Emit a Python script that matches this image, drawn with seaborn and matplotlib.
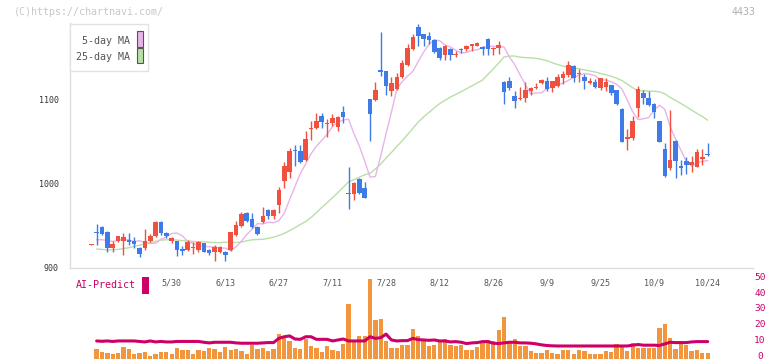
import numpy as np
import pandas as pd
import matplotlib
matplotlib.use("Agg")
import matplotlib.pyplot as plt
from matplotlib.patches import Rectangle
import seaborn as sns

# ---------------- data ----------------
opens = [927, 942, 948, 942, 923, 931, 931, 933, 931, 923,
         923, 931, 937, 954, 941, 931, 931, 922, 921, 923.5,
         921, 928.6, 920.6, 918.3, 918, 919, 921, 939, 949, 964.8,
         958, 948, 954, 968, 961, 974, 1003, 1013.5, 1040, 1038,
         1027.4, 1064, 1066, 1080, 1070.5, 1072, 1067, 1084.5, 989, 987,
         1005, 994.6, 1100, 1099, 1134.5, 1133, 1110, 1112, 1126, 1140,
         1159.5, 1186, 1177, 1175, 1170, 1161, 1152.4, 1160, 1153, 1160,
         1159.5, 1163, 1163.5, 1162, 1172, 1159.5, 1161, 1120.6, 1122, 1103.6,
         1099.6, 1101.6, 1110, 1113, 1119.5, 1121.4, 1112.7, 1115.5, 1125.4, 1128.6,
         1139.3, 1130, 1126, 1119.5, 1120.6, 1112.7, 1114.6, 1116.7, 1110.7, 1088,
         1053.2, 1054, 1089.7, 1107.6, 1100.8, 1094, 1073.8, 1040.5, 1018.3, 1050,
         1020, 1026, 1022.2, 1019.5, 1029.4, 1034.5]
closes = [928, 941, 940, 923, 928, 937, 936, 930, 928, 916,
          932, 938, 954, 941, 937, 934.5, 921, 920, 930, 924.5,
          930, 919, 917.5, 924.6, 924, 915, 941.7, 951, 964, 955.7,
          948, 940, 961, 961, 968, 992, 1021, 1039, 1038, 1025.4,
          1052.4, 1066, 1074, 1073, 1072, 1078, 1079, 1079, 987, 1000,
          988, 982.5, 1082.5, 1110.7, 1132, 1115.5, 1119.5, 1126.6, 1143, 1161,
          1174, 1175, 1172, 1170, 1156, 1149, 1163, 1152.4, 1154, 1158,
          1163, 1165.5, 1167, 1159.5, 1159, 1160.5, 1164, 1108.7, 1112.7, 1098,
          1101.6, 1110.7, 1113.5, 1114, 1122.6, 1112, 1121.4, 1125.8, 1129.8, 1140.5,
          1124.6, 1131, 1122, 1121.4, 1114.6, 1124.6, 1120.6, 1106.8, 1094, 1049.2,
          1055.2, 1073.8, 1111.6, 1100.8, 1092.9, 1085, 1049.2, 1008.7, 1027.4, 1026.6,
          1018.7, 1022, 1025.4, 1037.3, 1031.4, 1034]
highs = [928, 952, 949, 943, 931, 938, 941, 941, 936, 924,
         946, 940, 955, 955, 942, 936, 932, 926, 933, 930,
         931, 929, 922, 927, 925, 919.5, 942, 955, 966, 966,
         965, 949, 972, 970, 969, 996, 1025, 1042, 1046, 1046,
         1062, 1074, 1083, 1084, 1076, 1082, 1080, 1092, 1019, 1002,
         1006, 1002, 1100.5, 1120, 1180, 1134, 1126, 1131, 1147, 1165,
         1177, 1189, 1178, 1180, 1171, 1162, 1164, 1161, 1157, 1161,
         1164, 1166, 1168, 1163, 1173, 1161.6, 1169, 1121, 1125.8, 1109.5,
         1114.7, 1120, 1114, 1119.5, 1124, 1126, 1122, 1129.5, 1133, 1145,
         1140, 1135.7, 1129.8, 1125.4, 1123.5, 1125, 1125, 1117, 1111, 1090,
         1065, 1079.8, 1115.5, 1110.7, 1109.5, 1095, 1074, 1048, 1087, 1051,
         1028, 1031.3, 1032.5, 1040.5, 1040.5, 1048]
lows = [927, 927, 939, 919, 919, 930, 915, 927, 923, 913,
        921, 930, 936, 939, 935, 929, 914, 915, 920, 916,
        918, 918, 915, 907.5, 917, 908, 920, 938, 948, 954,
        947, 939, 953, 958, 958, 965, 994, 1006, 1021, 1024,
        1026, 1051, 1064, 1066, 1055, 1068, 1062, 1072, 970, 980,
        987, 982, 1050.5, 1098, 1128, 1105, 1103.6, 1111, 1125, 1139,
        1158, 1163, 1163, 1165, 1155, 1147, 1146, 1146, 1150, 1155,
        1157, 1157.5, 1163, 1153, 1153, 1152, 1153.6, 1093.7, 1110.7, 1090,
        1099, 1096.8, 1105, 1111.6, 1117.5, 1109.5, 1108, 1114, 1117.9, 1126.6,
        1120.6, 1120.6, 1111.6, 1117.9, 1112.7, 1111, 1110, 1105, 1093, 1049,
        1040, 1052, 1079, 1094, 1092, 1078, 1049, 1008, 1015.5, 1006.3,
        1010, 1011.6, 1013.5, 1019, 1021.4, 1032.5]

# first moving-average points (need history before the window)
ma5_head = [933, 933, 932, 931]
ma25_head = [922, 921.5, 921, 921, 921.5, 922.5, 923.5, 925, 926.5, 928,
             929.5, 931, 932.5, 933, 933, 932.5, 932, 931.5, 931, 930.5,
             930.5, 930, 929.5, 929.5]

# volume (lower panel), from the 2nd candle on
volume = [5.9, 4.2, 3.6, 3.0, 3.6, 7.3, 5.9, 3.0, 3.6, 4.0,
          1.5, 3.0, 4.0, 4.0, 3.0, 6.5, 5.2, 5.0, 3.0, 5.2,
          4.8, 6.5, 5.9, 4.2, 7.1, 5.4, 5.9, 4.8, 3.0, 8.3,
          5.9, 6.5, 4.8, 5.9, 15.1, 13.9, 11.0, 6.5, 6.1, 11.8,
          7.7, 6.5, 4.2, 7.7, 5.2, 4.8, 8.9, 33.6, 11.0, 13.9,
          13.9, 49.0, 23.7, 24.3, 11.0, 6.5, 6.5, 8.3, 8.3, 18.2,
          13.9, 11.0, 7.7, 8.3, 10.3, 11.8, 8.3, 7.7, 8.3, 5.2,
          5.2, 7.1, 9.8, 11.4, 11.0, 17.6, 25.6, 11.0, 12.0, 7.7,
          7.7, 4.8, 3.6, 3.6, 5.2, 3.6, 2.8, 5.2, 5.2, 2.8,
          5.2, 4.6, 2.8, 2.8, 2.8, 4.6, 4.0, 8.9, 7.7, 4.6,
          9.8, 6.5, 6.5, 6.5, 6.5, 18.8, 21.2, 12.6, 5.9, 8.9,
          8.3, 4.6, 5.2, 3.4, 3.4]
ai_predict = [10.8, 10.6, 10.8, 10.5, 10.8, 10.8, 10.8, 10.8, 10.5, 10.2,
              10.8, 10.2, 10.5, 10.2, 10.2, 10.5, 10.5, 10.5, 10.5, 10.5,
              10.0, 9.6, 10.0, 10.0, 10.0, 10.0, 9.6, 9.4, 9.4, 9.4,
              9.4, 9.6, 9.8, 9.8, 12.4, 13.4, 13.9, 12.0, 11.8, 13.4,
              13.4, 11.8, 11.8, 11.8, 10.8, 11.4, 12.0, 10.8, 10.8, 10.8,
              10.8, 13.4, 12.4, 12.8, 15.0, 11.4, 10.8, 11.0, 11.0, 12.4,
              11.6, 11.4, 11.2, 11.4, 10.8, 10.8, 10.2, 10.4, 10.0, 9.2,
              9.6, 9.8, 10.4, 10.4, 9.4, 9.2, 9.6, 10.0, 10.0, 9.6,
              9.6, 9.4, 9.0, 8.4, 8.0, 7.8, 7.7, 7.7, 7.7, 7.7,
              7.7, 7.7, 7.7, 7.7, 7.7, 7.7, 7.7, 7.7, 7.7, 7.7,
              8.2, 8.6, 8.2, 8.2, 8.2, 8.0, 9.0, 10.0, 9.8, 9.8,
              9.8, 10.2, 10.4, 10.4, 10.4]

date_labels = ["5/30", "6/13", "6/27", "7/11", "7/28", "8/12",
               "8/26", "9/9", "9/25", "10/9", "10/24"]
date_pos = [15, 25, 35, 45, 55, 65, 75, 85, 95, 105, 115]
price_ticks = [900, 1000, 1100]
vol_ticks = [0, 10, 20, 30, 40, 50]

# ---------------- styling ----------------
RED = "#f2503f"
BLUE = "#3f7be6"
PINK = "#e8b4ea"
GREEN = "#b8dfa8"
ORANGE = "#f2963e"
CRIMSON = "#cc0066"
GRID = "#dedede"

sns.set_style("white")
plt.rcParams["font.family"] = ["DejaVu Sans Mono", "DejaVu Sans"]

W, H = 772, 361
fig = plt.figure(figsize=(W / 100, H / 100), dpi=100)


def rect(l, t, r, b):
    return [l / W, 1 - b / H, (r - l) / W, (b - t) / H]


def fx(px):
    return px / W


def fy(py):
    return 1 - py / H


XL = (-3.97, 123.45)

# ---------------- price panel ----------------
ax = fig.add_axes(rect(70, 23.4, 753, 267.5))
ax.set_xlim(*XL)
ax.set_ylim(900, 1190)

n = len(closes)
x = np.arange(n)
o = np.array(opens, float)
c = np.array(closes, float)
h = np.array(highs, float)
lo = np.array(lows, float)
cols = np.where(c >= o, RED, BLUE)

cl = pd.Series(c)
ma5 = cl.rolling(5).mean().shift(1)
ma5.iloc[1:5] = ma5_head
ma25 = cl.rolling(25).mean().shift(1)
ma25.iloc[1:25] = ma25_head

sns.lineplot(x=x, y=ma25.values, ax=ax, color=GREEN, lw=1.0, zorder=1)
sns.lineplot(x=x, y=ma5.values, ax=ax, color=PINK, lw=1.0, zorder=1)

ax.vlines(x, lo, h, colors=cols, lw=1.0, zorder=2)
body = np.maximum(np.abs(c - o), 1.0)
ax.bar(x, body, bottom=np.minimum(o, c), width=0.85, color=cols,
       linewidth=0, zorder=3)

for s in ["top", "right"]:
    ax.spines[s].set_visible(False)
for s in ["left", "bottom"]:
    ax.spines[s].set_color(GRID)
    ax.spines[s].set_linewidth(1.0)
ax.set_xticks(np.linspace(XL[0], XL[1], 12))
ax.set_xticklabels([])
ax.set_yticks(price_ticks)
ax.set_yticklabels([str(v) for v in price_ticks], fontsize=6, color="#333333")
ax.tick_params(axis="x", length=3, color=GRID, direction="out")
ax.tick_params(axis="y", length=8, color=GRID, direction="inout", pad=4)
ax.set_xlabel("")
ax.set_ylabel("")

# ---------------- volume panel ----------------
ax2 = fig.add_axes(rect(70, 277.3, 753, 358.5))
ax2.set_xlim(*XL)
ax2.set_ylim(0, 50)
xv = x[1:]
ax2.bar(xv, volume, width=0.8, color=ORANGE, linewidth=0, zorder=1,
        clip_on=False)
sns.lineplot(x=xv, y=ai_predict, ax=ax2, color=CRIMSON, lw=2.2, zorder=2)
ax2.axis("off")
for v in vol_ticks:
    ypix = 356.5 - v * (356.5 - 277.3) / 50
    ax2.text(fx(760), fy(ypix), str(v),
             transform=fig.transFigure, ha="center", va="center",
             fontsize=6.8, color=CRIMSON)

# date labels under price panel
for lab, p in zip(date_labels, date_pos):
    ax.annotate(lab, xy=(p, 0), xycoords=("data", "axes fraction"),
                xytext=(0, -15), textcoords="offset pixels",
                ha="center", va="center", fontsize=6, color="#555555")

# AI-Predict label
fig.text(fx(76), fy(285.5), "AI-Predict", ha="left", va="center",
         fontsize=7.2, color=CRIMSON)
fig.add_artist(Rectangle((fx(142), fy(293.5)), fx(7), (293.5 - 277.3) / H,
                         transform=fig.transFigure, facecolor=CRIMSON,
                         edgecolor="none"))

# MA legend box
fig.add_artist(Rectangle((fx(70), fy(71)), fx(78), 47 / H,
                         transform=fig.transFigure, facecolor="white",
                         edgecolor="#e2e2e2", lw=1.0, zorder=5))
fig.text(fx(129.5), fy(40.5), "5-day MA", ha="right", va="center",
         fontsize=7.2, color="#555555", zorder=6)
fig.text(fx(129.5), fy(56.5), "25-day MA", ha="right", va="center",
         fontsize=7.2, color="#555555", zorder=6)
fig.add_artist(Rectangle((fx(136.5), fy(46.5)), fx(6), 15 / H,
                         transform=fig.transFigure, facecolor=PINK,
                         edgecolor="#555555", lw=0.8, zorder=6))
fig.add_artist(Rectangle((fx(136.5), fy(63)), fx(6), 15 / H,
                         transform=fig.transFigure, facecolor=GREEN,
                         edgecolor="#555555", lw=0.8, zorder=6))

# header texts
fig.text(fx(14), fy(12), "(C)https://chartnavi.com/", ha="left",
         va="center", fontsize=7.2, color="#c8c8c8")
fig.text(fx(756), fy(12), "4433", ha="right", va="center",
         fontsize=7.2, color="#b0b0b0")

fig.savefig("out.png", dpi=100)
